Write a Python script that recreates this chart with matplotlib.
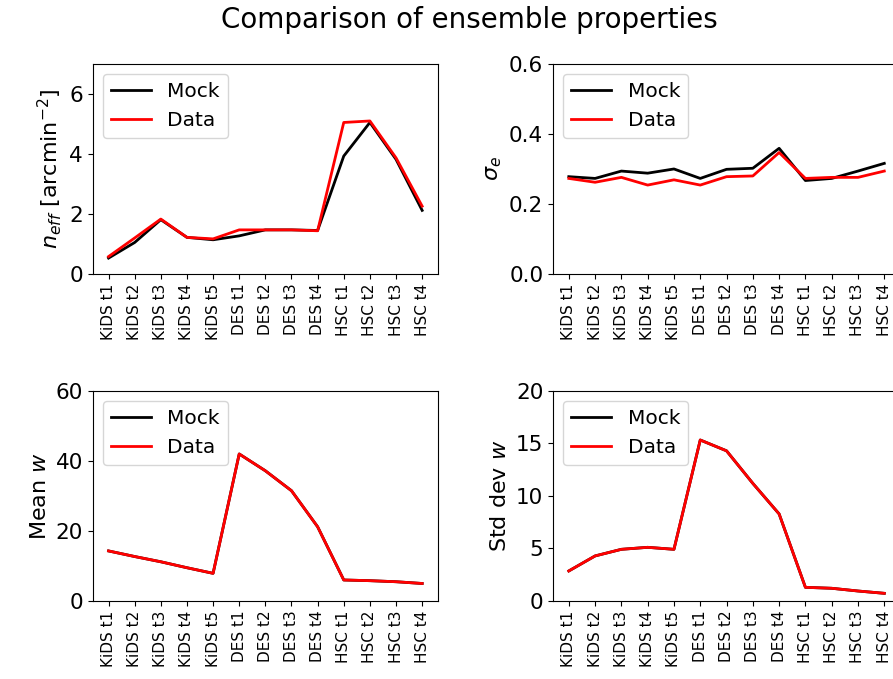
import numpy as np
import matplotlib
matplotlib.use('Agg')
import matplotlib.pyplot as plt

# bin labels
labels = ['KiDS t1', 'KiDS t2', 'KiDS t3', 'KiDS t4', 'KiDS t5',
          'DES t1', 'DES t2', 'DES t3', 'DES t4',
          'HSC t1', 'HSC t2', 'HSC t3', 'HSC t4']

# effective number density
neff_mock = [0.53, 1.05, 1.81, 1.22, 1.14, 1.27, 1.47, 1.47, 1.45, 3.93, 5.05, 3.82, 2.12]
neff_data = [0.58, 1.20, 1.83, 1.22, 1.17, 1.47, 1.47, 1.47, 1.44, 5.05, 5.10, 3.87, 2.26]

# shape noise
sige_mock = [0.278, 0.273, 0.294, 0.288, 0.300, 0.273, 0.299, 0.302, 0.359, 0.267, 0.273, 0.294, 0.316]
sige_data = [0.273, 0.262, 0.276, 0.254, 0.269, 0.254, 0.278, 0.280, 0.347, 0.273, 0.276, 0.276, 0.294]

# mean weight
meanw_mock = [14.3, 12.7, 11.2, 9.5, 7.9, 42.0, 37.2, 31.5, 21.2, 6.0, 5.8, 5.5, 5.0]
meanw_data = [14.3, 12.7, 11.2, 9.5, 7.9, 42.0, 37.2, 31.5, 21.2, 6.0, 5.8, 5.5, 5.0]

# std dev of weight
stdw_mock = [2.86, 4.29, 4.92, 5.11, 4.92, 15.33, 14.3, 11.2, 8.29, 1.30, 1.21, 0.95, 0.73]
stdw_data = [2.86, 4.29, 4.92, 5.11, 4.92, 15.33, 14.3, 11.2, 8.29, 1.30, 1.21, 0.95, 0.73]

plt.rcParams['font.size'] = 15.5
plt.rcParams['legend.fontsize'] = 14.5

fig = plt.figure(figsize=(8.93, 6.79), dpi=100)

# axes boxes (figure fractions); right column runs past the figure edge
boxes = [[0.104, 0.5965, 0.3863, 0.3093],
         [0.6193, 0.5965, 0.3886, 0.3093],
         [0.104, 0.1149, 0.3863, 0.3093],
         [0.6193, 0.1149, 0.3886, 0.3093]]

panels = [(neff_mock, neff_data, r'$n_{eff}$ [arcmin$^{-2}$]', (0, 7), [0, 2, 4, 6]),
          (sige_mock, sige_data, r'$\sigma_e$', (0, 0.6), [0.0, 0.2, 0.4, 0.6]),
          (meanw_mock, meanw_data, r'Mean $w$', (0, 60), [0, 20, 40, 60]),
          (stdw_mock, stdw_data, r'Std dev $w$', (0, 20), [0, 5, 10, 15, 20])]

x = np.arange(len(labels))
for box, (mock, data, ylab, ylim, yt) in zip(boxes, panels):
    ax = fig.add_axes(box)
    ax.plot(x, mock, color='black', lw=2, label='Mock')
    ax.plot(x, data, color='red', lw=2, label='Data')
    ax.set_ylim(*ylim)
    ax.set_yticks(yt)
    ax.set_xticks(x)
    ax.set_xticklabels(labels, rotation=90, fontsize=11)
    ax.set_ylabel(ylab, fontsize=16)
    ax.legend(loc='upper left')

fig.text(0.526, 0.97, 'Comparison of ensemble properties', ha='center', va='center', fontsize=20)

plt.savefig('out.png', dpi=100)
